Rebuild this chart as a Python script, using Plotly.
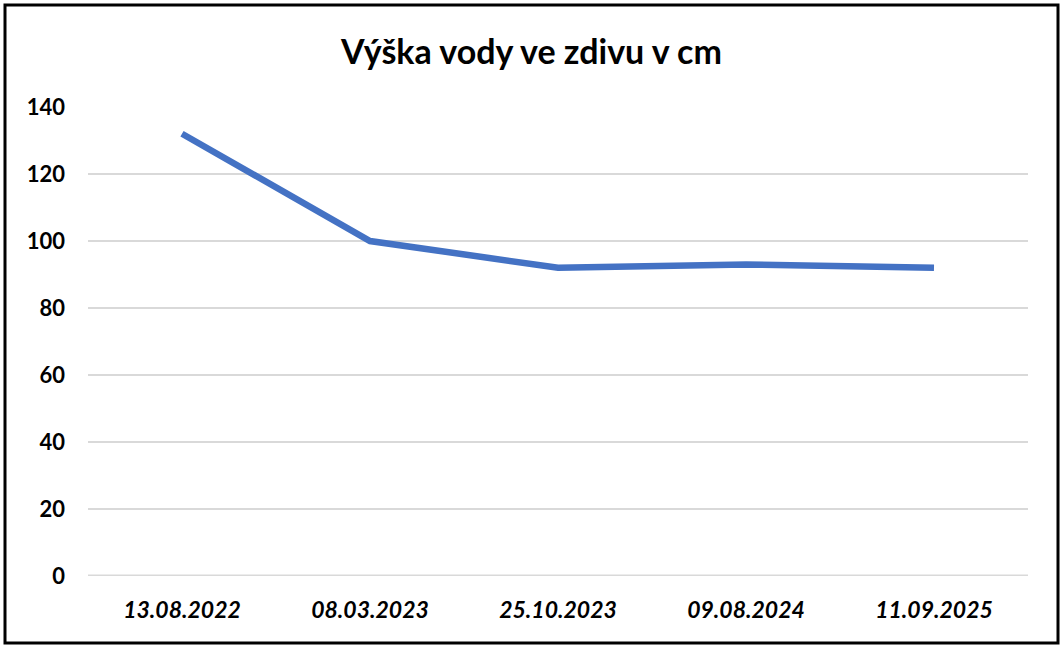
import plotly.graph_objects as go

dates = ["13.08.2022", "08.03.2023", "25.10.2023", "09.08.2024", "11.09.2025"]
heights = [132, 100, 92, 93, 92]
y_ticks = [0, 20, 40, 60, 80, 100, 120, 140]

W, H = 1063, 648
ml, mr, mt, mb = 88, 35, 107, 72
pw, ph = W - ml - mr, H - mt - mb

def px_to_paper_x(px):
    return (px - ml) / pw

def px_to_paper_y(py):
    return (H - mb - py) / ph

fig = go.Figure()
fig.add_trace(go.Scatter(
    x=dates, y=heights, mode="lines",
    line=dict(color="#4472C4", width=6.5),
    hoverinfo="x+y", showlegend=False,
))

fig.update_layout(
    width=W, height=H,
    margin=dict(l=ml, r=mr, t=mt, b=mb),
    paper_bgcolor="white", plot_bgcolor="white",
    title=dict(text="<b>Výška vody ve zdivu v cm</b>", x=0.5, xref="container",
               xanchor="center", y=1 - 52 / H, yanchor="middle",
               font=dict(family="Lato", size=34, color="black")),
    font=dict(family="Lato", color="black"),
    xaxis=dict(
        type="category", range=[-0.5, 4.5], showgrid=False, zeroline=False,
        showline=False, ticks="",
        tickvals=dates, ticktext=[f"<b><i>{d}</i></b>" for d in dates],
        tickfont=dict(family="Lato", size=23, color="black"),
        ticklabelstandoff=18,
    ),
    yaxis=dict(
        range=[0, 140], tickvals=y_ticks,
        ticktext=[f"<b>{v}</b>" for v in y_ticks],
        showgrid=True, gridcolor="#D9D9D9", gridwidth=2,
        zeroline=False, showline=False, ticks="",
        tickfont=dict(family="Lato", size=22, color="black"),
        ticklabelstandoff=22,
    ),
    shapes=[
        dict(type="line", xref="paper", yref="y", x0=0, x1=1, y0=0, y1=0,
             line=dict(color="#D9D9D9", width=3), layer="below"),
        dict(type="rect", xref="paper", yref="paper",
             x0=px_to_paper_x(5), x1=px_to_paper_x(1058),
             y0=px_to_paper_y(643), y1=px_to_paper_y(5),
             line=dict(color="black", width=3), fillcolor="rgba(0,0,0,0)"),
    ],
)

fig.write_html("out.html", config={"displayModeBar": False},
               post_script="document.body.style.margin='0';document.body.style.overflow='hidden';")
